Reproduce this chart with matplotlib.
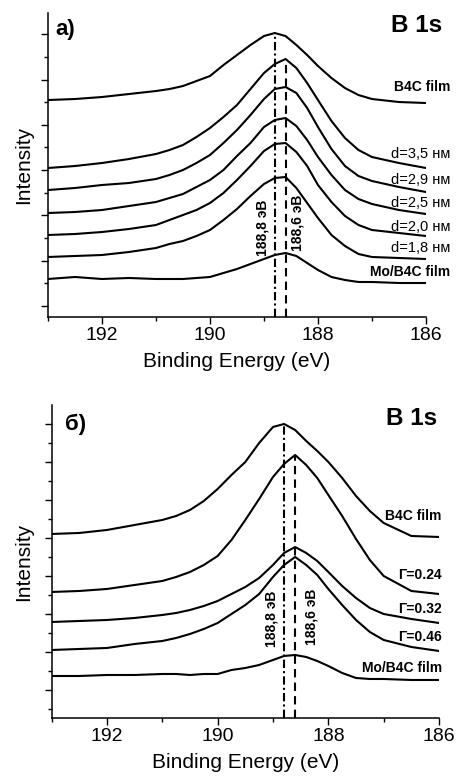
import matplotlib
matplotlib.use('Agg')
import matplotlib.pyplot as plt
from matplotlib.ticker import FixedLocator
import numpy as np

plt.rcParams['font.family'] = ['Liberation Sans', 'DejaVu Sans']

# binding energy grid (eV), same for every spectrum
energy = [193.0, 192.5, 192.0, 191.5, 191.0, 190.75, 190.5, 190.25, 190.0, 189.75, 189.5, 189.25,
          189.0, 188.8, 188.6, 188.4, 188.2, 188.0, 187.75, 187.5, 187.25, 187.0, 186.5, 186.0]

# panel a) - intensity in arbitrary units (stacked spectra)
a_labels = ['B4C film', 'd=3,5 нм', 'd=2,9 нм', 'd=2,5 нм', 'd=2,0 нм', 'd=1,8 нм', 'Mo/B4C film']
a_b4c = [217, 218, 220, 223, 226, 228, 231, 236, 241, 252, 262, 272, 281, 284, 281, 272, 262, 251, 239, 229, 222, 218, 215, 214]
a_d35 = [149, 151, 154, 158, 163, 167, 172, 180, 189, 200, 212, 228, 244, 253, 258, 249, 234, 217, 196, 179, 167, 160, 154, 149]
a_d29 = [127, 129, 132, 134, 138, 142, 147, 154, 162, 174, 187, 202, 218, 228, 230, 224, 209, 190, 168, 151, 141, 136, 130, 125]
a_d25 = [104, 105, 107, 111, 115, 119, 123, 130, 137, 147, 161, 174, 190, 197, 199, 191, 177, 160, 142, 127, 118, 113, 107, 103]
a_d20 = [82, 83, 85, 88, 92, 97, 102, 107, 114, 124, 137, 151, 166, 173, 174, 165, 151, 132, 115, 101, 92, 87, 84, 81]
a_d18 = [60, 61, 62, 65, 69, 73, 76, 81, 87, 97, 108, 121, 133, 139, 140, 129, 114, 99, 82, 71, 63, 60, 59, 58]
a_mo = [38, 40, 38, 39, 38, 38, 38, 39, 40, 44, 48, 53, 58, 62, 64, 61, 54, 47, 40, 37, 35, 35, 34, 34]

# panel б)
b_labels = ['B4C film', 'Γ=0.24', 'Γ=0.32', 'Γ=0.46', 'Mo/B4C film']
b_b4c = [184, 185, 188, 193, 198, 202, 208, 217, 229, 243, 256, 275, 291, 294, 288, 277, 267, 256, 240, 222, 207, 195, 182, 181]
b_g024 = [126, 127, 129, 133, 137, 141, 146, 153, 162, 178, 198, 219, 241, 254, 263, 253, 240, 223, 202, 179, 158, 142, 127, 124]
b_g032 = [96, 97, 98, 100, 103, 105, 108, 112, 117, 124, 131, 140, 153, 165, 171, 165, 157, 146, 132, 120, 110, 104, 99, 95]
b_g046 = [68, 69, 70, 74, 77, 80, 84, 89, 95, 104, 113, 124, 141, 153, 161, 153, 143, 129, 113, 98, 86, 78, 71, 67]
b_mo = [42, 42, 43, 43, 44, 44, 43, 44, 44, 48, 50, 53, 58, 62, 63, 61, 57, 52, 45, 40, 39, 39, 38, 38]

# peak positions marked by vertical lines
peak_b4c = 188.8
peak_shift = 188.6


def draw_panel(ax, curves, labels, label_y, label_bold, label_x, ylim, major, minor,
               tag, tag_pos, title_pos, dashdot_top, dashed_top, txt_pos):
    for y in curves:
        ax.plot(energy, y, color='black', lw=1.5, solid_joinstyle='round')

    for lab, ly, bold in zip(labels, label_y, label_bold):
        ax.text(label_x, ly, lab, ha='right', va='center',
                fontsize=10 if bold else 10.5,
                fontweight='bold' if bold else 'normal', clip_on=False)

    # vertical markers: dash-dot at 188.8 eV, dashed at 188.6 eV
    ax.plot([peak_b4c, peak_b4c], [0, dashdot_top], color='black', lw=1.5,
            dashes=(4, 1.5, 1, 1.5))
    ax.plot([peak_shift, peak_shift], [0, dashed_top], color='black', lw=1.5,
            dashes=(4, 2.5))
    ax.text(txt_pos[0][0], txt_pos[0][1], '188,8 эВ', rotation=90, ha='center', va='center',
            fontsize=10, fontweight='bold')
    ax.text(txt_pos[1][0], txt_pos[1][1], '188,6 эВ', rotation=90, ha='center', va='center',
            fontsize=10, fontweight='bold')

    ax.text(tag_pos[0], tag_pos[1], tag, transform=ax.transAxes, ha='center', va='center',
            fontsize=16, fontweight='bold')
    ax.text(title_pos[0], title_pos[1], 'B 1s', transform=ax.transAxes, ha='center', va='center',
            fontsize=17.5, fontweight='bold')

    ax.set_xlim(193, 186)
    ax.set_ylim(*ylim)
    ax.set_xticks([192, 190, 188, 186])
    ax.xaxis.set_minor_locator(FixedLocator([193, 191, 189, 187]))
    ax.yaxis.set_major_locator(FixedLocator(major))
    ax.yaxis.set_minor_locator(FixedLocator(minor))
    ax.set_yticklabels([])
    ax.tick_params(axis='both', which='major', direction='out', length=5, width=1,
                   labelsize=14, pad=2)
    ax.tick_params(axis='both', which='minor', direction='out', length=3, width=1)
    for s in ['top', 'right']:
        ax.spines[s].set_visible(False)
    for s in ['left', 'bottom']:
        ax.spines[s].set_linewidth(1.1)
    ax.set_xlabel('Binding Energy (eV)', fontsize=15, labelpad=6)
    ax.set_ylabel('Intensity', fontsize=15)


fig = plt.figure(figsize=(4.6, 7.8), dpi=100)
ax1 = fig.add_axes([0.1043, 0.5936, 0.8217, 0.3897])
ax2 = fig.add_axes([0.1122, 0.0795, 0.8422, 0.4013])

curves_a = [a_b4c, a_d35, a_d29, a_d25, a_d20, a_d18, a_mo]
draw_panel(ax1, curves_a, a_labels,
           label_y=[230, 163, 137, 114, 90, 69, 45],
           label_bold=[True, False, False, False, False, False, True],
           label_x=185.55, ylim=(0, 304),
           major=np.arange(11, 304, 45.3), minor=np.arange(33.65, 304, 45.3),
           tag='a)', tag_pos=(0.045, 0.947), title_pos=(0.976, 0.96),
           dashdot_top=max(a_b4c), dashed_top=max(a_d35),
           txt_pos=[(189.02, 89), (188.37, 94)])
ax1.yaxis.set_label_coords(-0.04, 0.5)

curves_b = [b_b4c, b_g024, b_g032, b_g046, b_mo]
draw_panel(ax2, curves_b, b_labels,
           label_y=[202, 143, 109, 81, 50],
           label_bold=[True, True, True, True, True],
           label_x=185.95, ylim=(0, 313),
           major=np.arange(28, 313, 38), minor=np.arange(9, 313, 38),
           tag='б)', tag_pos=(0.062, 0.939), title_pos=(0.928, 0.958),
           dashdot_top=max(b_b4c), dashed_top=max(b_g024),
           txt_pos=[(189.02, 99), (188.30, 101)])
ax2.yaxis.set_label_coords(-0.048, 0.5)

fig.savefig('out.png', dpi=100)
